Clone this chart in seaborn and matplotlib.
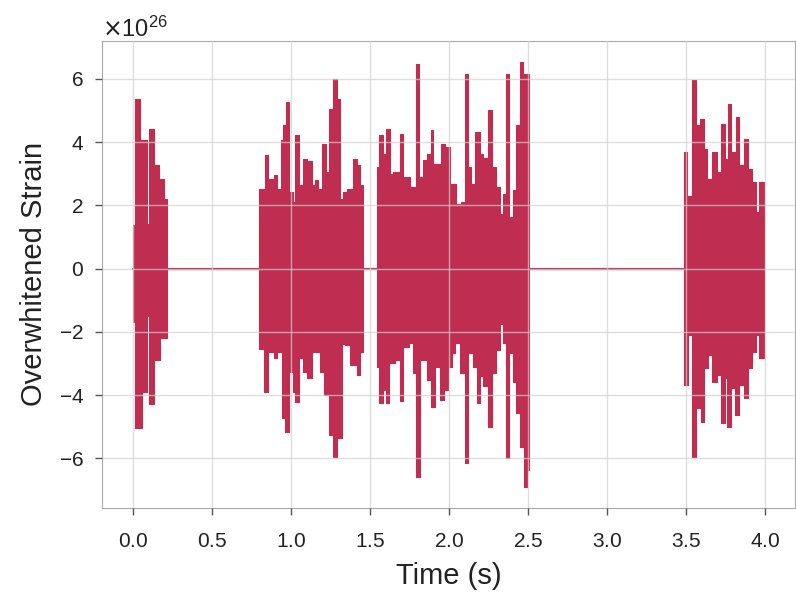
import numpy as np
import pandas as pd
import matplotlib
matplotlib.use("Agg")
import matplotlib.pyplot as plt
import seaborn as sns

# ---- data (strain in units of 1e26) ----
SCALE = 1e26
line_color = "#BF2E50"

# flat (zero) strain over the whole record
base_t = [0.0, 3.99]
base_v = [0.0, 0.0]

# burst envelopes: step left edges (s) and peak values, plus burst end
b1_up_t = [0.000, 0.013, 0.044, 0.086, 0.101, 0.128, 0.160, 0.192]
b1_up_v = [1.37, 5.37, 4.05, 1.40, 4.42, 3.26, 2.84, 2.20]
b1_lo_t = [0.000, 0.013, 0.055, 0.086, 0.097, 0.128, 0.171]
b1_lo_v = [-1.68, -5.05, -3.90, -1.50, -4.30, -2.90, -2.20]
b1_end = 0.213

b3_up_t = [0.792, 0.834, 0.849, 0.887, 0.908, 0.933, 0.950, 0.967, 0.988, 1.009,
           1.024, 1.051, 1.076, 1.097, 1.129, 1.150, 1.171, 1.192, 1.220, 1.241,
           1.266, 1.291, 1.308, 1.329, 1.350, 1.392, 1.413, 1.434]
b3_up_v = [2.53, 3.58, 2.84, 2.95, 2.53, 4.05, 4.53, 5.26, 2.43, 2.11,
           4.21, 2.63, 3.47, 3.40, 2.63, 2.79, 2.50, 3.95, 3.05, 5.05,
           6.00, 5.37, 2.21, 2.43, 2.53, 3.47, 3.26, 2.63]
b3_lo_t = [0.792, 0.824, 0.849, 0.887, 0.908, 0.939, 0.961, 0.988, 1.009, 1.024,
           1.051, 1.076, 1.101, 1.129, 1.150, 1.181, 1.206, 1.241, 1.266, 1.291,
           1.318, 1.339, 1.371, 1.413, 1.434]
b3_lo_v = [-2.53, -3.89, -2.63, -2.84, -2.63, -4.74, -5.16, -3.26, -3.89, -4.21,
           -2.84, -3.26, -3.47, -2.63, -2.63, -3.26, -4.00, -5.26, -5.95, -5.37,
           -2.40, -2.42, -3.05, -3.37, -2.63]
b3_end = 1.455

b5_up_t = [1.540, 1.557, 1.578, 1.599, 1.624, 1.645, 1.687, 1.708, 1.750, 1.788,
           1.809, 1.835, 1.860, 1.881, 1.898, 1.919, 1.950, 1.971, 2.003, 2.045,
           2.077, 2.098, 2.119, 2.140, 2.161, 2.193, 2.214, 2.245, 2.273, 2.298,
           2.319, 2.340, 2.357, 2.378, 2.403, 2.424, 2.445, 2.467]
b5_up_v = [3.21, 4.21, 3.63, 4.42, 3.00, 3.05, 4.26, 2.89, 2.58, 6.47,
           2.89, 3.42, 3.63, 4.37, 3.31, 3.30, 3.95, 3.84, 2.68, 2.05,
           2.10, 6.16, 3.21, 2.68, 4.32, 3.63, 3.50, 5.00, 3.21, 2.58,
           1.74, 2.37, 6.16, 1.63, 2.47, 4.53, 6.53, 6.16]
b5_lo_t = [1.540, 1.557, 1.578, 1.599, 1.620, 1.656, 1.687, 1.708, 1.746, 1.771,
           1.788, 1.814, 1.856, 1.887, 1.908, 1.944, 1.965, 1.993, 2.014, 2.035,
           2.066, 2.098, 2.119, 2.151, 2.172, 2.193, 2.214, 2.245, 2.273, 2.298,
           2.319, 2.340, 2.357, 2.378, 2.403, 2.424, 2.445, 2.471, 2.492]
b5_lo_v = [-3.10, -4.26, -3.84, -4.26, -3.00, -2.90, -4.20, -2.47, -2.37, -3.30,
           -6.58, -2.90, -3.53, -4.37, -3.10, -4.16, -3.84, -3.10, -2.68, -2.37,
           -3.30, -6.16, -2.68, -3.10, -4.26, -3.40, -3.73, -5.00, -3.30, -2.58,
           -1.74, -2.37, -6.00, -2.68, -3.60, -4.58, -5.63, -6.90, -6.37]
b5_end = 2.504

b7_up_t = [3.486, 3.507, 3.537, 3.560, 3.587, 3.612, 3.633, 3.665, 3.692, 3.718,
           3.743, 3.764, 3.785, 3.813, 3.834, 3.865, 3.891, 3.918, 3.939, 3.960]
b7_up_v = [3.68, 2.30, 5.95, 4.53, 4.74, 3.79, 2.84, 3.68, 3.05, 4.58,
           3.47, 5.21, 3.68, 4.79, 3.26, 4.10, 3.16, 2.74, 1.79, 2.74]
b7_lo_t = [3.486, 3.511, 3.537, 3.560, 3.591, 3.612, 3.638, 3.665, 3.692, 3.722,
           3.743, 3.760, 3.785, 3.806, 3.834, 3.865, 3.891, 3.918, 3.939, 3.960]
b7_lo_v = [-3.68, -2.10, -5.95, -4.42, -4.84, -3.16, -2.74, -3.58, -3.37, -4.89,
           -3.47, -5.00, -3.79, -4.63, -3.68, -4.10, -3.16, -2.63, -2.10, -2.84]
b7_end = 3.99

x_ticks = [0.0, 0.5, 1.0, 1.5, 2.0, 2.5, 3.0, 3.5, 4.0]
y_ticks = [-6, -4, -2, 0, 2, 4, 6]
x_label = "Time (s)"
y_label = "Overwhitened Strain"

# ---- style ----
sns.set_style("whitegrid", {
    "axes.edgecolor": "#a8a8a8",
    "grid.color": "#c8c8c8",
    "xtick.bottom": True,
    "ytick.left": True,
    "xtick.color": "#555555",
    "ytick.color": "#555555",
    "text.color": "#222222",
    "axes.labelcolor": "#222222",
})
plt.rcParams["font.family"] = ["Liberation Sans", "DejaVu Sans"]
plt.rcParams["axes.formatter.use_mathtext"] = True

fig = plt.figure(figsize=(7.96, 5.92), dpi=100)
ax = fig.add_axes([0.128, 0.142, 0.871, 0.789])

base = pd.DataFrame({"t": base_t, "h": np.array(base_v) * SCALE})
sns.lineplot(data=base, x="t", y="h", ax=ax, color=line_color, lw=1.6)


def stepped(t, v, end):
    return np.append(t, end), np.append(v, v[-1]) * SCALE


bursts = [
    (b1_up_t, b1_up_v, b1_lo_t, b1_lo_v, b1_end),
    (b3_up_t, b3_up_v, b3_lo_t, b3_lo_v, b3_end),
    (b5_up_t, b5_up_v, b5_lo_t, b5_lo_v, b5_end),
    (b7_up_t, b7_up_v, b7_lo_t, b7_lo_v, b7_end),
]
for ut, uv, lt, lv, end in bursts:
    tt, vv = stepped(ut, uv, end)
    ax.fill_between(tt, 0, vv, step="post", color=line_color,
                    edgecolor=line_color, lw=0.8)
    tt, vv = stepped(lt, lv, end)
    ax.fill_between(tt, 0, vv, step="post", color=line_color,
                    edgecolor=line_color, lw=0.8)

ax.set_xticks(x_ticks)
ax.set_yticks(np.array(y_ticks) * SCALE)
ax.set_axisbelow(False)
ax.grid(True, color="#d0d0d0", alpha=0.7, lw=1.0)

ax.tick_params(axis="both", labelsize=15, length=5, width=1, direction="out",
               labelcolor="#222222")
ax.tick_params(axis="x", pad=12)
ax.tick_params(axis="y", pad=8)
ax.yaxis.get_offset_text().set_fontsize(17)
ax.set_xlabel(x_label, fontsize=21, labelpad=8)
ax.set_ylabel(y_label, fontsize=21, labelpad=8)
for s in ax.spines.values():
    s.set_visible(True)
    s.set_color("#a8a8a8")

fig.savefig("out.png", dpi=100)
